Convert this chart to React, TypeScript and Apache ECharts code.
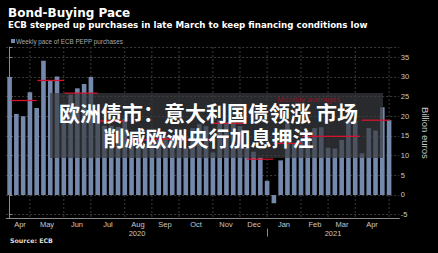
import React, { useEffect, useRef } from 'react';
import * as echarts from 'echarts';

// Weekly pace of ECB PEPP purchases (billion euros), one value per week
const weeklyPurchases = [
  30.0, 20.6, 20.0, 26.1, 22.1, 34.1, 29.0, 30.1, 19.0, 25.5,
  27.1, 28.2, 30.0, 21.0, 17.6, 17.6, 17.3, 19.5, 15.0, 14.2,
  12.5, 13.0, 14.0, 15.0, 14.5, 13.5, 11.9, 17.0, 18.0, 17.5,
  10.8, 19.0, 18.5, 19.0, 17.5, 12.0, 11.0, 9.5, 3.6, -2.1,
  8.8, 18.2, 13.0, 14.0, 15.0, 17.0, 17.2, 12.0, 11.8, 14.0,
  18.9, 18.8, 10.6, 17.0, 16.4, 22.3, 19.0,
];
const weekLabels = weeklyPurchases.map((_, i) => 'W' + (i + 1)).concat(['W58']);

// Month boundaries, in week index units
const monthStart = [0, 3, 8, 12, 17, 21, 25, 30, 34, 38, 43, 47, 51, 56];
const monthNames = ['Apr', 'May', 'Jun', 'Jul', 'Aug', 'Sep', 'Oct', 'Nov', 'Dec', 'Jan', 'Feb', 'Mar', 'Apr'];

// Years, in week index units
const yearNames = ['2020', '2021'];
const yearStart = [-0.5, 38];
const yearEnd = [38, 57.5];

// Monthly averages (billion euros), spanning week index ranges
const avgStart = [0.2, 4.1, 8.1, 13.15, 17.1, 21.2, 25.1, 30.1, 35.0, 38.9, 43.2, 47.4, 52.0];
const avgEnd = [4.0, 8.05, 13.0, 17.1, 21.2, 25.1, 30.0, 34.7, 38.9, 43.0, 47.4, 51.7, 56.1];
const avgValue = [24.0, 29.1, 25.9, 18.8, 14.0, 14.2, 14.0, 18.2, 9.1, 13.1, 14.9, 14.9, 19.0];

const yTickValues = [-5, 0, 5, 10, 15, 20, 25, 30, 35];

const TITLE = 'Bond-Buying Pace';
const SUBTITLE = 'ECB stepped up purchases in late March to keep financing conditions low';
const SERIES_NAME = 'Weekly pace of ECB PEPP purchases';
const SOURCE = 'Source: ECB';
const AVG_LABEL = 'Monthly averages';
const HEAD_LINE1 = '欧洲债市：意大利国债领涨 市场';
const HEAD_LINE2 = '削减欧洲央行加息押注';

const BAR = '#7589ad';
const GRID = '#3a3a3a';
const AXIS = '#8a8a8a';
const LABEL = '#c8c8c8';
const RED = '#d4142f';

export default function App() {
  const ref = useRef<HTMLDivElement>(null);

  useEffect(() => {
    if (!ref.current) return;
    const chart = echarts.init(ref.current, undefined, { renderer: 'svg' });

    const monthMid = monthNames.map((_, i) => (monthStart[i] + monthStart[i + 1]) / 2);
    const yearMid = yearNames.map((_, i) => (yearStart[i] + yearEnd[i]) / 2);
    const labelFont = { color: LABEL, fontSize: 7.5, fontFamily: 'Liberation Sans' };

    const option: any = {
      animation: false,
      backgroundColor: '#000',
      title: [
        {
          text: TITLE, left: 8, top: 6.5, padding: 0,
          textStyle: { color: '#fff', fontFamily: 'DejaVu Sans', fontWeight: 'bold', fontSize: 12 },
        },
        {
          text: SUBTITLE, left: 8, top: 20.5, padding: 0,
          textStyle: { color: '#fff', fontFamily: 'DejaVu Sans', fontWeight: 'bold', fontSize: 8.7 },
        },
        {
          text: SOURCE, left: 10, top: 237.5, padding: 0,
          textStyle: { color: '#ddd', fontFamily: 'DejaVu Sans', fontWeight: 'bold', fontSize: 6.3 },
        },
      ],
      legend: {
        data: [SERIES_NAME], left: 11, top: 38, padding: 0,
        itemWidth: 4, itemHeight: 4, icon: 'rect',
        textStyle: { color: '#aaa', fontSize: 6.3, fontFamily: 'Liberation Sans', padding: [0, 0, 0, -4] },
      },
      grid: { left: 6.2, right: 33, top: 47, bottom: 34.4, containLabel: false },
      xAxis: [
        { type: 'category', data: weekLabels, position: 'top', show: false },
        {
          type: 'value', position: 'bottom', min: -0.5, max: weekLabels.length - 0.5,
          axisLine: { show: true, onZero: false, lineStyle: { color: AXIS } },
          axisTick: { show: false },
          axisLabel: { show: false },
          splitLine: { show: false },
        },
      ],
      yAxis: {
        type: 'value', position: 'right', min: -6, max: 37.6,
        minInterval: 5, maxInterval: 5, splitNumber: 9,
        axisLine: { show: true, lineStyle: { color: AXIS } },
        axisTick: { show: true, length: 3, lineStyle: { color: AXIS } },
        axisLabel: {
          ...labelFont, margin: 1.5,
          formatter: (v: number) => (yTickValues.includes(Math.round(v * 100) / 100) ? String(v) : ''),
        },
        splitLine: { show: true, lineStyle: { color: GRID, type: [2, 2], width: 1 } },
        name: 'Billion euros', nameLocation: 'middle', nameRotate: -90, nameGap: 17,
        nameTextStyle: { color: LABEL, fontSize: 9.5, fontFamily: 'Liberation Sans' },
      },
      series: [
        {
          type: 'custom', name: 'month grid', xAxisIndex: 1, yAxisIndex: 0, z: 1, silent: true,
          data: monthStart.slice(1).map((m) => [m, 0]),
          encode: { x: 0, y: 1 },
          renderItem: (params: any, api: any) => {
            const p = api.coord([api.value(0), 0]);
            const cs = params.coordSys;
            return {
              type: 'line',
              shape: { x1: p[0], y1: cs.y, x2: p[0], y2: cs.y + cs.height },
              style: { stroke: GRID, lineWidth: 1, lineDash: [2, 2] },
            };
          },
        },
        {
          type: 'bar', name: SERIES_NAME, xAxisIndex: 0, yAxisIndex: 0, z: 2,
          data: weeklyPurchases, barCategoryGap: '32%',
          itemStyle: { color: BAR },
        },
        {
          type: 'custom', name: AVG_LABEL, xAxisIndex: 1, yAxisIndex: 0, z: 200, silent: true,
          data: avgStart.map((s, i) => [s, avgEnd[i], avgValue[i]]),
          encode: { x: [0, 1], y: 2 },
          renderItem: (params: any, api: any) => {
            const s = api.coord([api.value(0), api.value(2)]);
            const e = api.coord([api.value(1), api.value(2)]);
            return {
              type: 'line',
              shape: { x1: s[0], y1: s[1], x2: e[0], y2: e[1] },
              style: { stroke: RED, lineWidth: 1.3 },
            };
          },
        },
      ],
    };

    chart.setOption(option);

    // Place month / year labels through the x axis scale (snapped to whole pixels)
    const axisY = Math.round(chart.convertToPixel({ yAxisIndex: 0 }, -6) as number);
    const xOf = (w: number) => Math.round(chart.convertToPixel({ xAxisIndex: 1 }, w) as number);
    const graphics: any[] = [];
    monthNames.forEach((name, i) => {
      graphics.push({
        type: 'text', id: 'month-' + i, x: xOf(monthMid[i]), y: axisY + 1, z: 50,
        style: {
          text: name, fill: LABEL, align: 'center', verticalAlign: 'top',
          fontSize: 7.5, fontFamily: 'Liberation Sans', opacity: 1,
        },
      });
    });
    yearNames.forEach((name, i) => {
      graphics.push({
        type: 'text', id: 'year-' + i, x: xOf(yearMid[i]), y: axisY + 10, z: 50,
        style: {
          text: name, fill: LABEL, align: 'center', verticalAlign: 'top',
          fontSize: 7.5, fontFamily: 'Liberation Sans',
        },
      });
    });
    const breakX = xOf(yearStart[1]) + 0.5;
    graphics.push({
      type: 'line', id: 'ybreak', z: 50,
      shape: { x1: breakX, y1: axisY + 9.5, x2: breakX, y2: axisY + 17.5 },
      style: { stroke: AXIS, lineWidth: 1 },
    });
    graphics.push(
      {
        type: 'rect', id: 'cover', z: 100,
        shape: { x: 50, y: 93, width: 333, height: 65 },
        style: { fill: 'rgba(57,60,64,0.7)' },
      },
      {
        type: 'text', id: 'avglabel', left: 277, top: 95, z: 150,
        style: { text: AVG_LABEL, fill: '#8b1526', fontSize: 8, fontFamily: 'Liberation Sans' },
      },
      {
        type: 'text', id: 'h1', x: 208.5, y: 111.7, z: 300,
        style: {
          text: HEAD_LINE1, fill: '#fff', align: 'center', verticalAlign: 'middle',
          fontSize: 21, fontWeight: 'bold', fontFamily: 'Noto Sans CJK SC',
        },
      },
      {
        type: 'text', id: 'h2', x: 208.5, y: 136.7, z: 300,
        style: {
          text: HEAD_LINE2, fill: '#fff', align: 'center', verticalAlign: 'middle',
          fontSize: 21, fontWeight: 'bold', fontFamily: 'Noto Sans CJK SC',
        },
      },
    );
    chart.setOption({ graphic: graphics });

    return () => chart.dispose();
  }, []);

  return (
    <div
      ref={ref}
      style={{ position: 'fixed', left: 0, top: 0, width: 438, height: 253, background: '#000' }}
    />
  );
}
